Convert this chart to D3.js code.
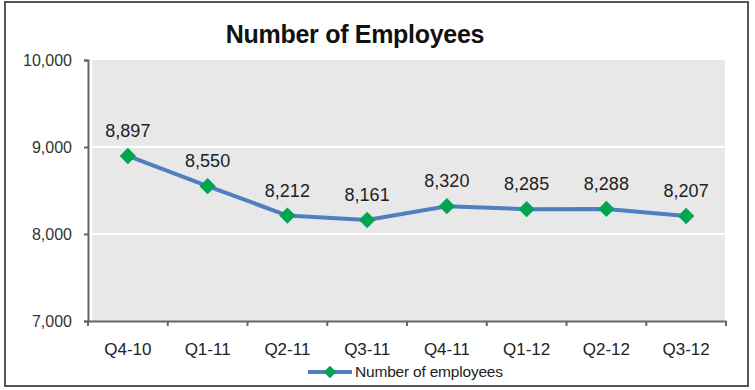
<!DOCTYPE html>
<html>
<head>
<meta charset="utf-8">
<script src="https://cdn.jsdelivr.net/npm/d3@7"></script>
<style>
  body { margin: 0; background: #fff; }
  svg { display: block; font-family: Arial, "Liberation Sans", sans-serif; }
</style>
</head>
<body>
<svg></svg>
<script>
const quarters = ['Q4-10', 'Q1-11', 'Q2-11', 'Q3-11', 'Q4-11', 'Q1-12', 'Q2-12', 'Q3-12'];
const employees = [8897, 8550, 8212, 8161, 8320, 8285, 8288, 8207];
const yTicks = [7000, 8000, 9000, 10000];

let width = 755;
let height = 390;
let plot = { left: 88, right: 726, top: 60, bottom: 321 };

let svg = d3.select('svg').attr('width', width).attr('height', height);

// outer frame
svg.append('rect')
    .attr('x', 5).attr('y', 2)
    .attr('width', 743).attr('height', 384)
    .attr('fill', '#fff')
    .attr('stroke', '#555')
    .attr('stroke-width', 2);

let xScale = d3.scaleBand()
    .domain(quarters)
    .range([plot.left, plot.right]);

let yScale = d3.scaleLinear()
    .domain([7000, 10000])
    .range([plot.bottom, plot.top]);

// plot background
svg.append('rect')
    .attr('x', plot.left + 4).attr('y', plot.top)
    .attr('width', plot.right - plot.left - 5)
    .attr('height', plot.bottom - plot.top)
    .attr('fill', '#e8e8e8');

// gridlines
svg.append('g')
    .selectAll('line')
    .data(yTicks.slice(1, 3))
    .enter()
    .append('line')
    .attr('x1', plot.left + 4).attr('x2', plot.right - 1)
    .attr('y1', d => yScale(d)).attr('y2', d => yScale(d))
    .attr('stroke', '#fff')
    .attr('stroke-width', 2);

// axes
let yAxis = d3.axisLeft(yScale)
    .tickValues(yTicks)
    .tickFormat(d3.format(','))
    .tickSize(4)
    .tickPadding(12);

let gy = svg.append('g')
    .attr('transform', 'translate(' + plot.left + ',0)')
    .call(yAxis);
gy.select('.domain').attr('stroke', '#666').attr('stroke-width', 2);
gy.selectAll('.tick line').attr('stroke', '#666').attr('stroke-width', 2);
gy.selectAll('text').attr('font-size', 16).attr('fill', '#333');

let xAxis = d3.axisBottom(xScale).tickSize(0).tickPadding(22);
let gx = svg.append('g')
    .attr('transform', 'translate(0,' + plot.bottom + ')')
    .call(xAxis);
gx.select('.domain').attr('stroke', '#666').attr('stroke-width', 2);
gx.selectAll('text').attr('font-size', 17).attr('fill', '#222');

// category boundary ticks
let bounds = quarters.map(q => xScale(q)).concat([plot.right]);
svg.append('g')
    .selectAll('line')
    .data(bounds)
    .enter()
    .append('line')
    .attr('x1', d => d).attr('x2', d => d)
    .attr('y1', plot.bottom).attr('y2', plot.bottom + 5)
    .attr('stroke', '#666')
    .attr('stroke-width', 2);

let cx = q => xScale(q) + xScale.bandwidth() / 2;

// line
let line = d3.line()
    .x((d, i) => cx(quarters[i]))
    .y(d => yScale(d));

svg.append('path')
    .datum(employees)
    .attr('d', line)
    .attr('fill', 'none')
    .attr('stroke', '#4f7fbf')
    .attr('stroke-width', 4);

// markers
let diamond = d3.symbol().type(d3.symbolDiamond2).size(170);
svg.append('g')
    .selectAll('path')
    .data(employees)
    .enter()
    .append('path')
    .attr('d', diamond)
    .attr('transform', (d, i) => 'translate(' + cx(quarters[i]) + ',' + yScale(d) + ')')
    .attr('fill', '#00a54f');

// data labels
svg.append('g')
    .selectAll('text')
    .data(employees)
    .enter()
    .append('text')
    .attr('x', (d, i) => cx(quarters[i]))
    .attr('y', d => yScale(d) - 19)
    .attr('text-anchor', 'middle')
    .attr('font-size', 18)
    .attr('fill', '#222')
    .text(d => d3.format(',')(d));

// title
svg.append('text')
    .attr('x', 355).attr('y', 43)
    .attr('text-anchor', 'middle')
    .attr('font-size', 25)
    .attr('font-weight', 'bold')
    .attr('letter-spacing', -0.3)
    .attr('fill', '#111')
    .text('Number of Employees');

// legend
let legend = svg.append('g').attr('transform', 'translate(308,372)');
legend.append('line')
    .attr('x1', 0).attr('x2', 44)
    .attr('stroke', '#4f7fbf').attr('stroke-width', 4);
legend.append('path')
    .attr('d', d3.symbol().type(d3.symbolDiamond2).size(100))
    .attr('transform', 'translate(22,0)')
    .attr('fill', '#00a54f');
legend.append('text')
    .attr('x', 47).attr('y', 5)
    .attr('font-size', 15.5)
    .attr('letter-spacing', -0.2)
    .attr('fill', '#222')
    .text('Number of employees');
</script>
</body>
</html>
